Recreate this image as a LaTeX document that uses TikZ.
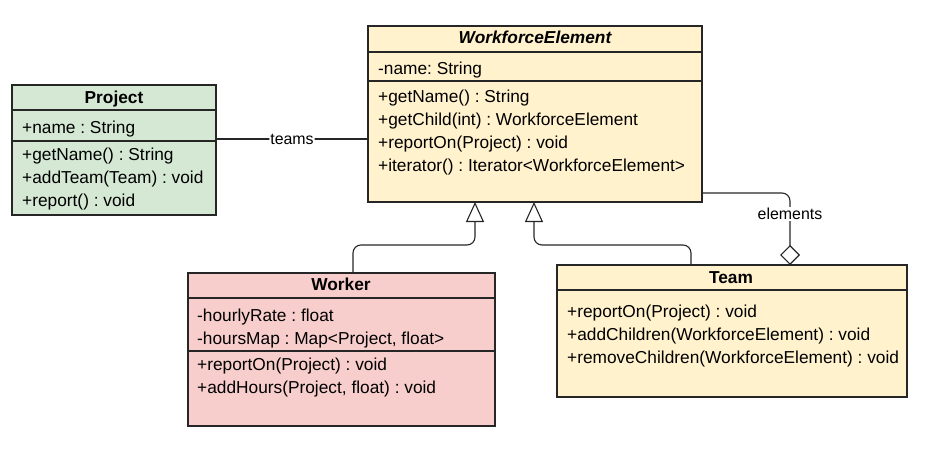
\documentclass[tikz,border=0pt]{standalone}
\usepackage{fontspec}
\setmainfont{Liberation Sans}
\usetikzlibrary{arrows.meta}

\definecolor{prjgreen}{HTML}{D5E8D4}
\definecolor{elemyellow}{HTML}{FFF2CC}
\definecolor{wrkred}{HTML}{F8CECC}

\tikzset{
    classbox/.style={rectangle, draw=black!85, line width=1.2pt, anchor=north west, inner sep=0pt, outer sep=0pt},
    sepline/.style={draw=black!85, line width=1.2pt},
    classname/.style={inner sep=0pt, font=\bfseries, text height=14pt, text depth=1pt},
    member/.style={anchor=west, inner sep=0pt, text height=14pt, text depth=1pt},
    link/.style={draw=black!85, line width=1.1pt, rounded corners=8pt},
    linklabel/.style={fill=white, inner sep=1pt, font=\fontsize{15.9}{18}\selectfont},
}

\begin{document}
\frenchspacing
\fontsize{17.3}{21}\selectfont
\begin{tikzpicture}[x=1pt,y=-1pt]
        \useasboundingbox (0,0) rectangle (935,461);

        % class boxes
        \node[classbox, fill=prjgreen, minimum width=204pt, minimum height=130pt] (prj) at (12,85) {};
        \node[classbox, fill=elemyellow, minimum width=334pt, minimum height=176pt] (elem) at (368,26) {};
        \node[classbox, fill=wrkred, minimum width=307pt, minimum height=153pt] (wrk) at (188,273) {};
        \node[classbox, fill=elemyellow, minimum width=350pt, minimum height=132pt] (team) at (557,265) {};

        % compartments
        \draw[sepline] (prj.west |- 0,110) -- (prj.east |- 0,110);
        \draw[sepline] (prj.west |- 0,141) -- (prj.east |- 0,141);
        \draw[sepline] (elem.west |- 0,52) -- (elem.east |- 0,52);
        \draw[sepline] (elem.west |- 0,81) -- (elem.east |- 0,81);
        \draw[sepline] (wrk.west |- 0,298) -- (wrk.east |- 0,298);
        \draw[sepline] (wrk.west |- 0,351) -- (wrk.east |- 0,351);
        \draw[sepline] (team.west |- 0,290) -- (team.east |- 0,290);

        % Project
        \node[classname] (prjname) at (114,97) {Project};
        \node[member] (prjattr) at (22,127) {+name : String};
        \foreach \m [count=\i] in {{+getName() : String},{+addTeam(Team) : void},{+report() : void}}
            \node[member] (prjop\i) at (22,{131+23*\i}) {\m};

        % WorkforceElement
        \node[classname, font=\bfseries\itshape] (elemname) at (535,37) {WorkforceElement};
        \node[member] (elemattr) at (378,68) {-name: String};
        \foreach \m [count=\i] in {{+getName() : String},{+getChild(int) : WorkforceElement},{+reportOn(Project) : void},{+iterator() : Iterator<WorkforceElement>}}
            \node[member] (elemop\i) at (378,{73+23*\i}) {\m};

        % Worker
        \node[classname] (wrkname) at (341,284) {Worker};
        \foreach \m [count=\i] in {{-hourlyRate : float},{-hoursMap : Map<Project, float>}}
            \node[member] (wrkattr\i) at (197,{292+23*\i}) {\m};
        \foreach \m [count=\i] in {{+reportOn(Project) : void},{+addHours(Project, float) : void}}
            \node[member] (wrkop\i) at (197,{341+23*\i}) {\m};

        % Team
        \node[classname] (teamname) at (731,277) {Team};
        \foreach \m [count=\i] in {{+reportOn(Project) : void},{+addChildren(WorkforceElement) : void},{+removeChildren(WorkforceElement) : void}}
            \node[member] (teamop\i) at (567,{288+23*\i}) {\m};

        % associations
        \draw[link] (prj.east |- 0,139) -- node[linklabel] (teamslabel) {teams} (elem.west |- 0,139);
        \draw[link, -{Diamond[open, length=20pt, width=20pt]}] (elem.east |- 0,193) -| (team.north -| 790,0);
        \node[linklabel] (elemlabel) at (790,214) {elements};

        % generalizations
        \draw[link, -{Triangle[open, length=20pt, width=18pt]}] (wrk.north -| 353,0) |- (475,245) -- (elem.south -| 475,0);
        \draw[link, -{Triangle[open, length=20pt, width=18pt]}] (team.north -| 691,0) |- (534,245) -- (elem.south -| 534,0);
\end{tikzpicture}
\end{document}
